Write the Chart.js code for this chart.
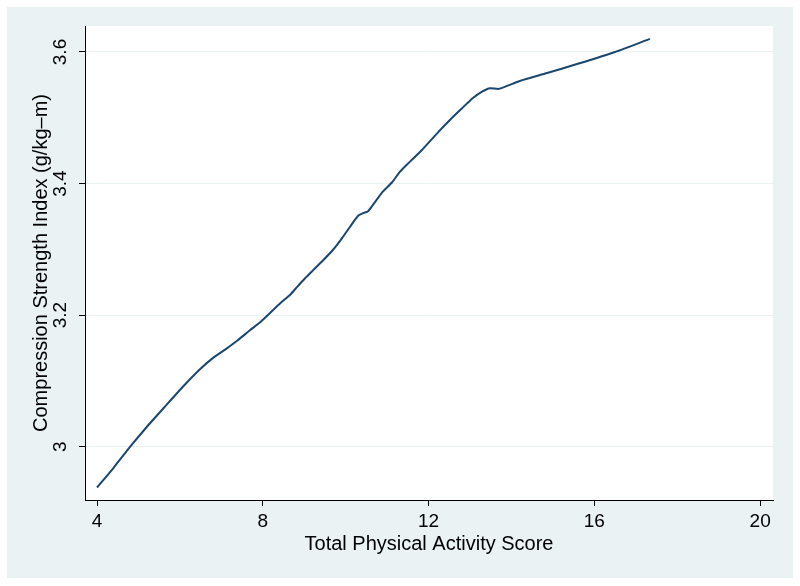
<!DOCTYPE html>
<html>
<head>
<meta charset="utf-8">
<script src="https://cdn.jsdelivr.net/npm/chart.js"></script>
<style>
  html, body { margin: 0; padding: 0; background: #fff; }
  canvas { display: block; }
</style>
</head>
<body>
<canvas id="chart" width="800" height="586"></canvas>
<script>
// activity score vs. fitted compression strength index
const activityScore = [4.00, 4.40, 4.80, 5.20, 5.64, 6.10, 6.49, 6.80, 7.10, 7.38, 7.69,
    7.95, 8.17, 8.42, 8.66, 8.83, 9.02, 9.21, 9.45, 9.69, 9.90, 10.10, 10.30, 10.42, 10.54,
    10.64, 10.90, 11.12, 11.31, 11.48, 11.84, 12.20, 12.52, 12.80, 13.07, 13.30, 13.48,
    13.70, 14.20, 14.86, 15.60, 16.50, 17.34];
const strengthIndex = [2.938, 2.968, 3.000, 3.030, 3.061, 3.093, 3.118, 3.135, 3.148, 3.161,
    3.177, 3.190, 3.203, 3.218, 3.231, 3.243, 3.256, 3.268, 3.283, 3.299, 3.316, 3.334,
    3.351, 3.355, 3.358, 3.366, 3.388, 3.402, 3.418, 3.429, 3.451, 3.476, 3.497, 3.514,
    3.530, 3.540, 3.545, 3.544, 3.556, 3.568, 3.582, 3.600, 3.620];
const xTicks = [4, 8, 12, 16, 20];
const yTicks = [3, 3.2, 3.4, 3.6];

const FONT = "'Liberation Sans', Arial, Helvetica, sans-serif";
const BG = "#eaf2f3";

const backdrop = {
    id: "backdrop",
    beforeDraw(chart) {
        const {ctx, chartArea: a} = chart;
        ctx.save();
        ctx.fillStyle = "#fff";
        ctx.fillRect(0, 0, chart.width, chart.height);
        ctx.fillStyle = BG;
        ctx.fillRect(7, 7, 786, 571);
        ctx.fillStyle = "#fff";
        ctx.fillRect(a.left, a.top, a.right - a.left, a.bottom - a.top);
        ctx.restore();
    },
};

new Chart(document.getElementById("chart").getContext("2d"), {
    type: "line",
    data: {
        datasets: [{
            data: activityScore.map((x, i) => ({x, y: strengthIndex[i]})),
            borderColor: "#1a476f",
            borderWidth: 2,
            pointRadius: 0,
            tension: 0.2,
            fill: false,
        }],
    },
    options: {
        responsive: false,
        animation: false,
        layout: {padding: {top: 26, right: 27, left: 0, bottom: 0}},
        plugins: {legend: {display: false}, tooltip: {enabled: false}},
        scales: {
            x: {
                type: "linear",
                min: 3.71,
                max: 20.31,
                afterBuildTicks: s => { s.ticks = xTicks.map(v => ({value: v})); },
                afterFit: s => { s.height = 86; },
                grid: {drawOnChartArea: false, drawTicks: true, tickLength: 6, tickColor: "#000"},
                border: {color: "#000", width: 1},
                ticks: {color: "#000", padding: 4, font: {family: FONT, size: 19}, maxRotation: 0},
                title: {
                    display: true,
                    text: "Total Physical Activity Score",
                    color: "#000",
                    font: {family: FONT, size: 20},
                    padding: {top: 0, bottom: 30},
                },
            },
            y: {
                min: 2.919,
                max: 3.6395,
                afterBuildTicks: s => { s.ticks = yTicks.map(v => ({value: v})); },
                afterFit: s => { s.width = 85; },
                grid: {color: "#eaf2f3", lineWidth: 1, drawTicks: true, tickLength: 6, tickColor: "#000"},
                border: {color: "#000", width: 1},
                ticks: {
                    color: "#000",
                    padding: 5,
                    minRotation: 90,
                    maxRotation: 90,
                    crossAlign: "center",
                    font: {family: FONT, size: 19},
                    callback: v => String(v),
                },
                title: {
                    display: true,
                    text: "Compression Strength Index (g/kg\u2013m)",
                    color: "#000",
                    font: {family: FONT, size: 20},
                    padding: {top: 29, bottom: 0},
                },
            },
        },
    },
    plugins: [backdrop],
});
</script>
</body>
</html>
